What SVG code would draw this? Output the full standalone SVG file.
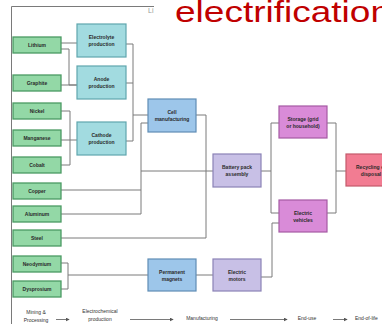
<svg xmlns="http://www.w3.org/2000/svg" width="382" height="324" viewBox="0 0 382 324">
<defs>
<style>
.t{font-family:"Liberation Sans",Arial,sans-serif;font-size:5px;fill:#2a2a2a;text-anchor:middle;font-weight:bold}
.b{font-family:"Liberation Sans",Arial,sans-serif;font-size:5px;fill:#333;text-anchor:middle}
.g rect{fill:#93d8a6;stroke:#4b9a63;stroke-width:1.3}
.c rect{fill:#a2dbe0;stroke:#5fa6ad;stroke-width:1.2}
.u rect{fill:#9dc6ea;stroke:#5f8db5;stroke-width:1.2}
.l rect{fill:#c8c0e6;stroke:#8b82b6;stroke-width:1.2}
.m rect{fill:#d98bd8;stroke:#a55aa4;stroke-width:1.2}
.r rect{fill:#f27c92;stroke:#c35a6b;stroke-width:1.2}
.ln{fill:none;stroke:#7a7a7a;stroke-width:1}
</style>
<marker id="ah" viewBox="0 0 6 6" refX="5" refY="3" markerWidth="4" markerHeight="4" orient="auto"><path d="M0,0L6,3L0,6z" fill="#555"/></marker>
</defs>
<rect width="382" height="324" fill="#fff"/>
<path class="ln" d="M11.5,324V6.5H154" stroke="#888"/>
<text x="148" y="13" font-family="Liberation Sans,Arial,sans-serif" font-size="7" fill="#999">Li</text>
<text x="175" y="22" font-family="Liberation Sans,Arial,sans-serif" font-size="29" fill="#c00000" textLength="216" lengthAdjust="spacingAndGlyphs">electrification</text>

<g id="connectors" class="ln">
<path d="M61,43H77"/>
<path d="M61,49H69V85H77"/>
<path d="M61,85H77"/>
<path d="M61,111H70V165H61"/>
<path d="M61,140H77"/>
<path d="M126,44H133V141H126"/>
<path d="M126,83H133"/>
<path d="M133,115H148"/>
<path d="M61,190H141V214H61"/>
<path d="M141,190V123H148"/>
<path d="M141,171H213"/>
<path d="M196,115H206V238H61"/>
<path d="M61,263H68V289H61"/>
<path d="M68,275H148"/>
<path d="M196,275H213"/>
<path d="M261,277H272V223H279"/>
<path d="M261,171H271"/>
<path d="M279,123H271V213H279"/>
<path d="M327,123H336V213H327"/>
<path d="M336,171H346"/>
</g>

<g id="lithium" class="g"><rect x="13" y="37" width="48" height="16"/><text class="t" x="37" y="46.7">Lithium</text></g>
<g id="graphite" class="g"><rect x="13" y="75" width="48" height="16"/><text class="t" x="37" y="84.7">Graphite</text></g>
<g id="nickel" class="g"><rect x="13" y="103" width="48" height="16"/><text class="t" x="37" y="112.7">Nickel</text></g>
<g id="manganese" class="g"><rect x="13" y="130" width="48" height="16"/><text class="t" x="37" y="139.7">Manganese</text></g>
<g id="cobalt" class="g"><rect x="13" y="157" width="48" height="16"/><text class="t" x="37" y="166.7">Cobalt</text></g>
<g id="copper" class="g"><rect x="13" y="183" width="48" height="16"/><text class="t" x="37" y="192.7">Copper</text></g>
<g id="aluminum" class="g"><rect x="13" y="206" width="48" height="16"/><text class="t" x="37" y="215.7">Aluminum</text></g>
<g id="steel" class="g"><rect x="13" y="230" width="48" height="16"/><text class="t" x="37" y="239.7">Steel</text></g>
<g id="neodymium" class="g"><rect x="13" y="256" width="48" height="16"/><text class="t" x="37" y="265.7">Neodymium</text></g>
<g id="dysprosium" class="g"><rect x="13" y="281" width="48" height="16"/><text class="t" x="37" y="290.7">Dysprosium</text></g>

<g id="electrolyte" class="c"><rect x="77" y="24" width="49" height="33"/><text class="t" x="101.5" y="39">Electrolyte</text><text class="t" x="101.5" y="46">production</text></g>
<g id="anode" class="c"><rect x="77" y="66" width="49" height="33"/><text class="t" x="101.5" y="81">Anode</text><text class="t" x="101.5" y="88">production</text></g>
<g id="cathode" class="c"><rect x="77" y="122" width="49" height="33"/><text class="t" x="101.5" y="137">Cathode</text><text class="t" x="101.5" y="144">production</text></g>

<g id="cell" class="u"><rect x="148" y="99" width="48" height="33"/><text class="t" x="172" y="114">Cell</text><text class="t" x="172" y="121">manufacturing</text></g>
<g id="magnets" class="u"><rect x="148" y="259" width="48" height="32"/><text class="t" x="172" y="273.5">Permanent</text><text class="t" x="172" y="280.5">magnets</text></g>

<g id="battery" class="l"><rect x="213" y="154" width="48" height="33"/><text class="t" x="237" y="169">Battery pack</text><text class="t" x="237" y="176">assembly</text></g>
<g id="motors" class="l"><rect x="213" y="259" width="48" height="32"/><text class="t" x="237" y="273.5">Electric</text><text class="t" x="237" y="280.5">motors</text></g>

<g id="storage" class="m"><rect x="279" y="106" width="48" height="32"/><text class="t" x="303" y="120.5">Storage (grid</text><text class="t" x="303" y="127.5">or household)</text></g>
<g id="ev" class="m"><rect x="279" y="200" width="48" height="32"/><text class="t" x="303" y="214.5">Electric</text><text class="t" x="303" y="221.5">vehicles</text></g>

<g id="recycling" class="r"><rect x="346" y="154" width="50" height="32"/><text class="t" x="371" y="168.5">Recycling or</text><text class="t" x="371" y="175.5">disposal</text></g>

<g id="legend">
<text class="b" x="36" y="314">Mining &amp;</text><text class="b" x="36" y="322">Processing</text>
<text class="b" x="100" y="313">Electrochemical</text><text class="b" x="100" y="321">production</text>
<text class="b" x="202" y="320">Manufacturing</text>
<text class="b" x="307" y="320">End-use</text>
<text class="b" x="355" y="320" style="text-anchor:start">End-of-life</text>
<g class="ln" stroke-width="0.7">
<path d="M56,319.5H69" marker-end="url(#ah)"/>
<path d="M130,319.5H173" marker-end="url(#ah)"/>
<path d="M230,319.5H287" marker-end="url(#ah)"/>
<path d="M333,319.5H347" marker-end="url(#ah)"/>
</g>
</g>
</svg>
